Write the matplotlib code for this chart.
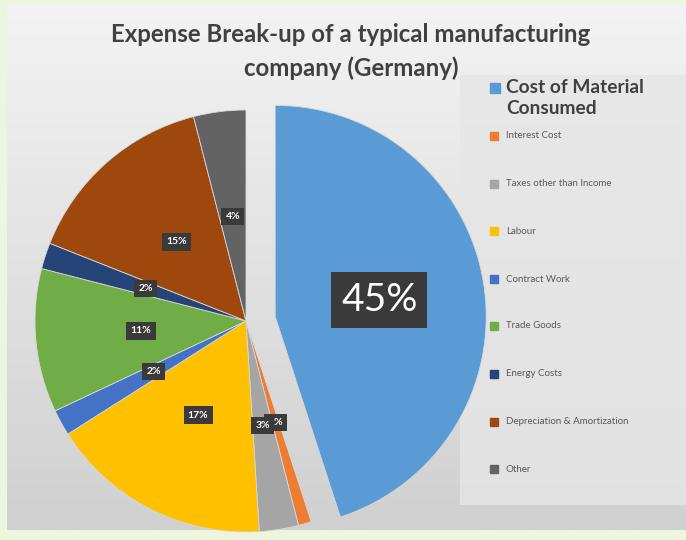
import numpy as np
import matplotlib.pyplot as plt
from matplotlib.patches import Rectangle

labels = ["Cost of Material\nConsumed", "Interest Cost", "Taxes other than Income", "Labour",
          "Contract Work", "Trade Goods", "Energy Costs", "Depreciation & Amortization", "Other"]
shares = [45, 1, 3, 17, 2, 11, 2, 15, 4]
colors = ["#5B9BD5", "#ED7D31", "#A5A5A5", "#FFC000", "#4472C4", "#70AD47", "#264478", "#9E480E", "#636363"]

plt.rcParams["font.family"] = ["Lato", "DejaVu Sans"]

W, H = 686, 540
fig = plt.figure(figsize=(W / 100, H / 100), dpi=100)
fig.patch.set_facecolor("#eef5dd")

# gray gradient panel
bg = fig.add_axes([7 / W, 10 / H, 679 / W, 526 / H])
grad = np.linspace(0, 1, 256).reshape(-1, 1)
bg.imshow(grad, aspect="auto", cmap=plt.matplotlib.colors.LinearSegmentedColormap.from_list(
    "g", ["#f3f3f3", "#d0d0d0"]), extent=[0, 1, 0, 1], origin="upper")
bg.axis("off")

# legend panel
lg = fig.add_axes([460 / W, 35 / H, 226 / W, 430 / H])
lg.set_xlim(0, 1)
lg.set_ylim(0, 1)
lg.add_patch(Rectangle((0, 0), 1, 1, color="#e6e6e6", alpha=0.8))
lg.axis("off")

# pie
cx, cy, R = 246, 321, 211
span = 1.25
ax = fig.add_axes([(cx - R * span) / W, (H - cy - R * span) / H, 2 * R * span / W, 2 * R * span / H])
explode = [0.14] + [0] * (len(shares) - 1)
wedges, texts, autotexts = ax.pie(shares, colors=colors, startangle=90, counterclock=False,
                                  explode=explode, autopct="%d%%", pctdistance=0.5,
                                  wedgeprops=dict(edgecolor="#d8d8d8", linewidth=0.6))
ax.set_xlim(-span, span)
ax.set_ylim(-span, span)
ax.set_aspect("equal")
ax.axis("off")

for i, t in enumerate(autotexts):
    if i == 0:
        t.set_fontsize(28)
        t.set_color("white")
        t.set_bbox(dict(facecolor="#3a3a3a", edgecolor="none", pad=7))
    else:
        t.set_fontsize(7.5)
        t.set_fontweight("bold")
        t.set_color("white")
        t.set_bbox(dict(facecolor="#3a3a3a", edgecolor="none", pad=3))

fig.text(351 / W, 1 - 35 / H, "Expense Break-up of a typical manufacturing", ha="center", va="center",
         fontsize=17.3, fontweight="bold", color="#404040")
fig.text(351 / W, 1 - 68 / H, "company (Germany)", ha="center", va="center",
         fontsize=17.3, fontweight="bold", color="#404040")

ys = [88, 136, 184, 231, 279, 326, 374, 422, 469]
for i, (lab, col, y) in enumerate(zip(labels, colors, ys)):
    if i == 0:
        fig.patches.append(Rectangle((490 / W, 1 - (y + 5) / H), 10 / W, 10 / H,
                                     transform=fig.transFigure, color=col))
        fig.text(506 / W, 1 - (y - 9) / H, lab, ha="left", va="top", fontsize=13.8,
                 fontweight="bold", color="#404040", linespacing=1.25)
    else:
        fig.patches.append(Rectangle((490 / W, 1 - (y + 4) / H), 8 / W, 8 / H,
                                     transform=fig.transFigure, color=col))
        fig.text(506 / W, 1 - y / H, lab, ha="left", va="center", fontsize=7, color="#595959")

fig.savefig("out.png", dpi=100, facecolor=fig.get_facecolor())
